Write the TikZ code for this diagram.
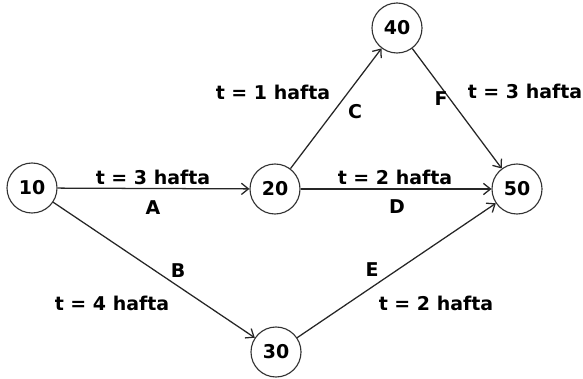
\documentclass[tikz,border=0pt]{standalone}
\usepackage{fontspec}
\setmainfont{DejaVu Sans}
\usetikzlibrary{arrows.meta,positioning}

\begin{document}
\begin{tikzpicture}[x=0.025cm,y=-0.025cm,>={Straight Barb[length=5pt,width=8pt]},font=\bfseries\fontsize{13.5}{15}\selectfont]
\tikzstyle{event}=[draw=black!80,circle,line width=0.8pt,minimum size=1.25cm,inner sep=0pt]
\tikzstyle{act}=[->,line width=0.9pt,black!85]
\tikzstyle{lbl}=[inner sep=1pt]
\useasboundingbox (0,0) rectangle (583,379);
% olaylar
\node[event] (n10) at (32,188) {10};
\node[event] (n20) at (275,189) {20};
\node[event] (n40) at (397,28) {40};
\node[event] (n50) at (517,189) {50};
\node[event] (n30) at (276,352) {30};
% faaliyetler
\draw[act] (n10)--(n20);
\draw[act] (n10)--(n30);
\draw[act] (n20)--(n40);
\draw[act] (n20)--(n50);
\draw[act] (n40)--(n50);
\draw[act] (n30)--(n50);
% etiketler
\node[lbl] (tA) at (153,177) {t = 3 hafta};
\node[lbl] (lA) at (153,208) {A};
\node[lbl] (tC) at (273,92) {t = 1 hafta};
\node[lbl] (lC) at (355,112) {C};
\node[lbl] (tD) at (395,177) {t = 2 hafta};
\node[lbl] (lD) at (397,207) {D};
\node[lbl] (tF) at (525,91) {t = 3 hafta};
\node[lbl] (lF) at (441,99) {F};
\node[lbl] (lB) at (178,271) {B};
\node[lbl] (tB) at (112,303) {t = 4 hafta};
\node[lbl] (lE) at (372,270) {E};
\node[lbl] (tE) at (436,303) {t = 2 hafta};
\end{tikzpicture}
\end{document}
